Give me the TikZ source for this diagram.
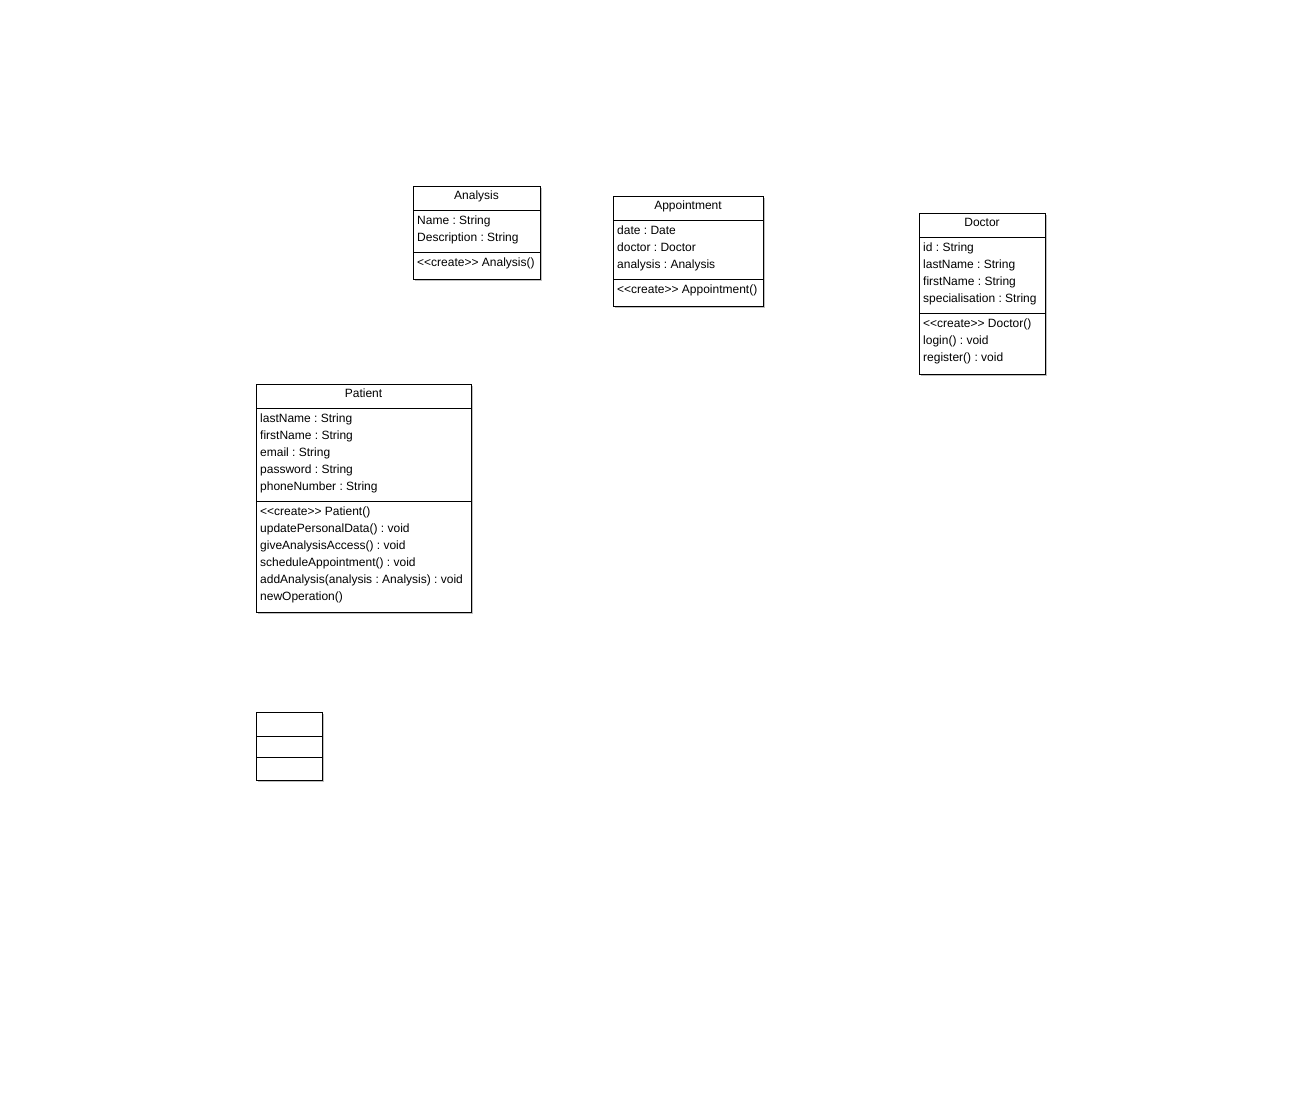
\documentclass[tikz,border=0pt]{standalone}
\usepackage{fontspec}
\setmainfont{Liberation Sans}
\usetikzlibrary{shadows}
\frenchspacing
\tikzset{
  classbox/.style={draw=black, line width=0.9pt, fill=white, anchor=north west, inner sep=0pt,
    drop shadow={shadow xshift=2pt, shadow yshift=-2pt, fill=black, opacity=0.25}},
  sepline/.style={draw=black, line width=0.9pt},
  member/.style={inner sep=0pt, anchor=base west, font=\fontsize{12}{14}\selectfont\frenchspacing},
  ctitle/.style={inner sep=0pt, anchor=base, font=\fontsize{12}{14}\selectfont}
}
\begin{document}
\begin{tikzpicture}[x=1pt, y=-1pt]
\useasboundingbox (0,0) rectangle (1301,1106);
% Analysis
\node[classbox, minimum width=127pt, minimum height=93pt] (analysis) at (413,186) {};
\draw[sepline] (413,210) -- (540,210);
\draw[sepline] (413,252) -- (540,252);
\node[ctitle] (analysisT) at (476.5,199) {Analysis};
\node[member] (a1) at (417,224) {Name : String};
\node[member] (a2) at (417,241) {Description : String};
\node[member] (a3) at (417,266) {<{}<create>{}> Analysis()};
% Appointment
\node[classbox, minimum width=150pt, minimum height=110pt] (appointment) at (613,196) {};
\draw[sepline] (613,220) -- (763,220);
\draw[sepline] (613,279) -- (763,279);
\node[ctitle] (appointmentT) at (688,209) {Appointment};
\node[member] (p1) at (617,234) {date : Date};
\node[member] (p2) at (617,251) {doctor : Doctor};
\node[member] (p3) at (617,268) {analysis : Analysis};
\node[member] (p4) at (617,293) {<{}<create>{}> Appointment()};
% Doctor
\node[classbox, minimum width=126pt, minimum height=161pt] (doctor) at (919,213) {};
\draw[sepline] (919,237) -- (1045,237);
\draw[sepline] (919,313) -- (1045,313);
\node[ctitle] (doctorT) at (982,226) {Doctor};
\node[member] (d1) at (923,251) {id : String};
\node[member] (d2) at (923,268) {lastName : String};
\node[member] (d3) at (923,285) {firstName : String};
\node[member] (d4) at (923,302) {specialisation : String};
\node[member] (d5) at (923,327) {<{}<create>{}> Doctor()};
\node[member] (d6) at (923,344) {login() : void};
\node[member] (d7) at (923,361) {register() : void};
% Patient
\node[classbox, minimum width=215pt, minimum height=228pt] (patient) at (256,384) {};
\draw[sepline] (256,408) -- (471,408);
\draw[sepline] (256,501) -- (471,501);
\node[ctitle] (patientT) at (363.5,397) {Patient};
\node[member] (t1) at (260,422) {lastName : String};
\node[member] (t2) at (260,439) {firstName : String};
\node[member] (t3) at (260,456) {email : String};
\node[member] (t4) at (260,473) {password : String};
\node[member] (t5) at (260,490) {phoneNumber : String};
\node[member] (t6) at (260,515) {<{}<create>{}> Patient()};
\node[member] (t7) at (260,532) {updatePersonalData() : void};
\node[member] (t8) at (260,549) {giveAnalysisAccess() : void};
\node[member] (t9) at (260,566) {scheduleAppointment() : void};
\node[member] (t10) at (260,583) {addAnalysis(analysis : Analysis) : void};
\node[member] (t11) at (260,600) {newOperation()};
% Empty class
\node[classbox, minimum width=66pt, minimum height=68pt] (empty) at (256,712) {};
\draw[sepline] (256,736) -- (322,736);
\draw[sepline] (256,757) -- (322,757);
\end{tikzpicture}
\end{document}
